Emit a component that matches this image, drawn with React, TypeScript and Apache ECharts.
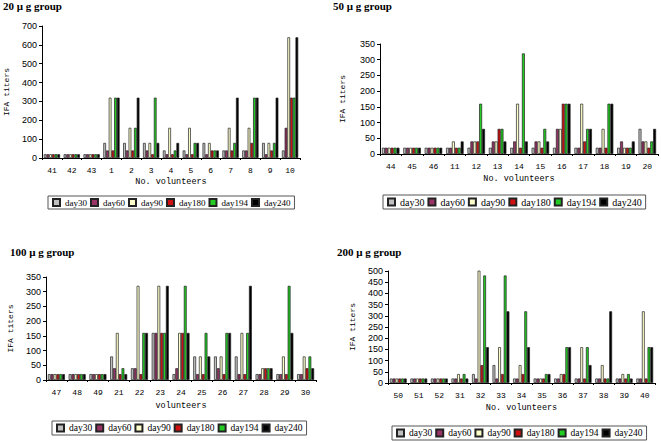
import React, { useEffect, useRef } from "react";
import * as echarts from "echarts";

const seriesNames = ["day30", "day60", "day90", "day180", "day194", "day240"];
const seriesColors = ["#c0c0c0", "#993366", "#ffffcc", "#d01010", "#22cc22", "#000000"];

const titles = ["20 μ g group", "50 μ g group", "100 μ g group", "200 μ g group"];
const xNames = ["No. volunteers", "No. volunteers", "volunteers", "No. volunteers"];
const yMax = [700, 350, 350, 500];
const yInterval = [100, 50, 50, 50];

const cats1 = ["41", "42", "43", "1", "2", "3", "4", "5", "6", "7", "8", "9", "10"];
const cats2 = ["44", "45", "46", "11", "12", "13", "14", "15", "16", "17", "18", "19", "20"];
const cats3 = ["47", "48", "49", "21", "22", "23", "24", "25", "26", "27", "28", "29", "30"];
const cats4 = ["50", "51", "52", "31", "32", "33", "34", "35", "36", "37", "38", "39", "40"];

// values per series (day30, day60, day90, day180, day194, day240), one entry per category
const g1day30 = [20, 20, 20, 80, 80, 80, 40, 40, 80, 40, 40, 80, 40];
const g1day60 = [20, 20, 20, 40, 40, 40, 20, 20, 20, 40, 40, 20, 160];
const g1day90 = [20, 20, 20, 320, 160, 80, 160, 160, 80, 160, 160, 80, 640];
const g1day180 = [20, 20, 20, 40, 40, 20, 20, 20, 40, 40, 80, 40, 320];
const g1day194 = [20, 20, 20, 320, 160, 320, 40, 80, 40, 80, 320, 80, 320];
const g1day240 = [20, 20, 20, 320, 320, 80, 80, 80, 40, 320, 320, 320, 640];

const g2day30 = [20, 20, 20, 20, 20, 20, 20, 20, 20, 20, 20, 20, 80];
const g2day60 = [20, 20, 20, 20, 40, 40, 40, 40, 80, 20, 20, 40, 40];
const g2day90 = [20, 20, 20, 40, 40, 40, 160, 40, 80, 160, 80, 20, 40];
const g2day180 = [20, 20, 20, 20, 40, 80, 20, 20, 160, 40, 20, 20, 20];
const g2day194 = [20, 20, 20, 20, 160, 80, 320, 80, 160, 80, 160, 20, 40];
const g2day240 = [20, 20, 20, 40, 80, 40, 40, 40, 160, 80, 160, 40, 80];

const g3day30 = [20, 20, 20, 80, 40, 160, 20, 80, 80, 80, 20, 20, 20];
const g3day60 = [20, 20, 20, 40, 40, 160, 40, 20, 40, 20, 20, 20, 20];
const g3day90 = [20, 20, 20, 160, 320, 320, 160, 80, 80, 160, 40, 80, 80];
const g3day180 = [20, 20, 20, 20, 20, 160, 160, 20, 20, 20, 40, 20, 40];
const g3day194 = [20, 20, 20, 40, 160, 160, 320, 160, 160, 160, 40, 320, 80];
const g3day240 = [20, 20, 20, 20, 160, 320, 160, 80, 160, 320, 40, 160, 40];

const g4day30 = [20, 20, 20, 20, 40, 80, 20, 20, 20, 20, 20, 20, 20];
const g4day60 = [20, 20, 20, 20, 20, 20, 20, 20, 20, 20, 20, 20, 20];
const g4day90 = [20, 20, 20, 40, 640, 160, 80, 20, 40, 160, 80, 40, 320];
const g4day180 = [20, 20, 20, 20, 80, 40, 40, 20, 40, 20, 20, 20, 20];
const g4day194 = [20, 20, 20, 40, 480, 480, 320, 40, 160, 160, 20, 40, 160];
const g4day240 = [20, 20, 20, 20, 160, 320, 160, 40, 160, 80, 320, 20, 160];

const categories = [cats1, cats2, cats3, cats4];
const groupData = [
  [g1day30, g1day60, g1day90, g1day180, g1day194, g1day240],
  [g2day30, g2day60, g2day90, g2day180, g2day194, g2day240],
  [g3day30, g3day60, g3day90, g3day180, g3day194, g3day240],
  [g4day30, g4day60, g4day90, g4day180, g4day194, g4day240],
];

const grids = [
  { left: 42, top: 26, width: 258, height: 132 },
  { left: 380, top: 44, width: 278, height: 110 },
  { left: 46, top: 277, width: 270, height: 103 },
  { left: 388, top: 271, width: 267, height: 112 },
];
const titlePos = [
  { left: 3, top: 0 },
  { left: 333, top: 0 },
  { left: 10, top: 246 },
  { left: 337, top: 246 },
];
const legendPos = [
  { left: 48, top: 196 },
  { left: 383, top: 195 },
  { left: 52, top: 421 },
  { left: 392, top: 426 },
];
const legendFont = [9, 10, 9.5, 9.5];
const yNameGap = [32, 34, 32, 32];
const xNameGap = [19, 20, 21, 20];

const monoFont = "'Liberation Mono', 'DejaVu Sans Mono', monospace";
const serifFont = "'Liberation Serif', 'DejaVu Serif', serif";

export default function App() {
  const ref = useRef<HTMLDivElement>(null);
  useEffect(() => {
    if (!ref.current) return;
    const chart = echarts.init(ref.current, undefined, { renderer: "svg" });
    const series: any[] = [];
    groupData.forEach((g, gi) => {
      g.forEach((vals, si) => {
        series.push({
          type: "bar",
          name: seriesNames[si],
          xAxisIndex: gi,
          yAxisIndex: gi,
          data: vals,
          barGap: "0%",
          barCategoryGap: "18%",
          itemStyle: { color: seriesColors[si], borderColor: "#222", borderWidth: 0.7 },
          clip: true,
        });
      });
    });
    chart.setOption({
      animation: false,
      backgroundColor: "#ffffff",
      title: titles.map((t, i) => ({
        text: t,
        ...titlePos[i],
        padding: [0, 0, 0, 0],
        textStyle: { fontFamily: serifFont, fontWeight: "bold", fontSize: 11, color: "#000" },
      })),
      grid: grids.map((g) => ({ ...g, containLabel: false })),
      legend: legendPos.map((p, i) => ({
        ...p,
        data: seriesNames,
        orient: "horizontal",
        icon: "rect",
        itemWidth: 7,
        itemHeight: 7,
        itemGap: 3,
        padding: [2, 4],
        borderColor: "#555",
        borderWidth: 1,
        borderRadius: 0,
        selectedMode: false,
        textStyle: { fontFamily: serifFont, fontSize: legendFont[i], color: "#000" },
      })),
      xAxis: categories.map((c, i) => ({
        type: "category",
        gridIndex: i,
        data: c,
        name: xNames[i],
        nameLocation: "middle",
        nameGap: xNameGap[i],
        nameTextStyle: { fontFamily: monoFont, fontSize: 8.5, color: "#000" },
        axisLine: { lineStyle: { color: "#000", width: 1 } },
        axisTick: { show: true, length: 2, lineStyle: { color: "#000" } },
        axisLabel: { fontFamily: monoFont, fontSize: 8, color: "#000", margin: 8 },
        splitLine: { show: false },
      })),
      yAxis: yMax.map((m, i) => ({
        type: "value",
        gridIndex: i,
        min: 0,
        max: m,
        interval: yInterval[i],
        name: "IFA titers",
        nameLocation: "middle",
        nameRotate: 90,
        nameGap: yNameGap[i],
        nameTextStyle: { fontFamily: monoFont, fontSize: 8, color: "#000" },
        axisLine: { show: true, lineStyle: { color: "#000", width: 1 } },
        axisTick: { show: true, length: 3, lineStyle: { color: "#000" } },
        axisLabel: { fontFamily: "'Liberation Sans', Arial, sans-serif", fontSize: 9, color: "#000", margin: 5 },
        splitLine: { show: false },
      })),
      series,
    });
    return () => chart.dispose();
  }, []);
  return (
    <div
      ref={ref}
      style={{ position: "fixed", left: 0, top: 0, width: 661, height: 442, background: "#fff" }}
    />
  );
}
